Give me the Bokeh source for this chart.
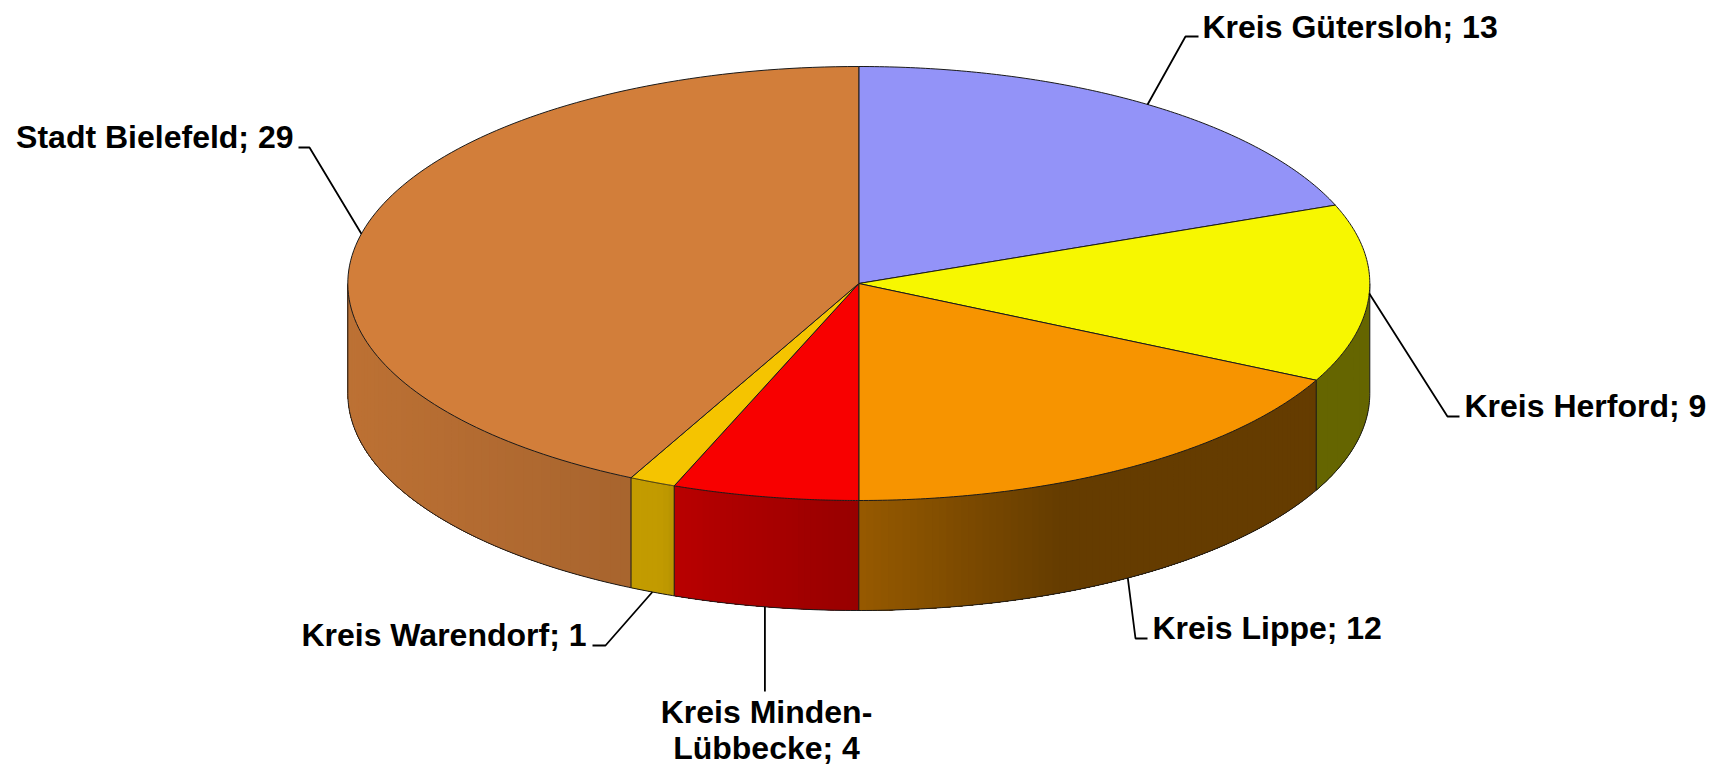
import numpy as np
from bokeh.core.properties import value
from bokeh.embed import file_html
from bokeh.models import Range1d
from bokeh.plotting import figure
from bokeh.resources import INLINE

# ---- data (clockwise from 12 o'clock) ----
names = ["Kreis Gütersloh", "Kreis Herford", "Kreis Lippe",
         "Kreis Minden-Lübbecke", "Kreis Warendorf", "Stadt Bielefeld"]
counts = [13, 9, 12, 4, 1, 29]
colors = ["#9393F8", "#F7F700", "#F79400", "#F80000", "#F5C400", "#D27E3A"]

# ---- layout (page pixels) ----
CX, CY, RX, RY, DEPTH = 858.3, 283.0, 511.0, 217.0, 110.0
# side shading, by horizontal position
SHADE_X = [347, 660, 680, 860, 1060, 1369]
SHADE_F = [0.90, 0.79, 0.74, 0.61, 0.41, 0.41]
# per-label: elbow, label-end of the leader, text x, baseline y, alignment
label_layout = [
    dict(elbow=(1185, 36), end=(1198, 36), tx=1202, ty=[37], align="left", side=False),
    dict(elbow=(1447, 416), end=(1459, 416), tx=1464, ty=[416], align="left", side=False),
    dict(elbow=(1135, 638), end=(1147, 638), tx=1152, ty=[638], align="left", side=True),
    dict(elbow=(764.4, 691), end=(764.4, 691), tx=766, ty=[722, 758], align="center", side=True),
    dict(elbow=(605, 645), end=(592, 645), tx=586, ty=[645], align="right", side=True),
    dict(elbow=(309, 147), end=(298, 147), tx=293, ty=[147], align="right", side=False),
]
label_lines = [
    ["Kreis Gütersloh; 13"], ["Kreis Herford; 9"], ["Kreis Lippe; 12"],
    ["Kreis Minden-", "Lübbecke; 4"], ["Kreis Warendorf; 1"], ["Stadt Bielefeld; 29"],
]

FONT = "Liberation Sans"
FONT_SIZE = "32px"
TEXT_DY = -11  # the browser sets these texts lower than the asked-for baseline


def ex(t):
    return CX + RX * np.sin(t)


def ey(t):
    return CY - RY * np.cos(t)


def shade(hex_col, x):
    f = float(np.interp(x, SHADE_X, SHADE_F))
    r, g, b = (int(hex_col[i:i + 2], 16) for i in (1, 3, 5))
    return "#%02x%02x%02x" % (int(r * f), int(g * f), int(b * f))


p = figure(width=1719, height=766, output_backend="svg", toolbar_location=None,
           x_range=Range1d(0, 1719), y_range=Range1d(766, 0),
           min_border=0, outline_line_color=None, background_fill_color="white",
           border_fill_color="white")
p.axis.visible = False
p.grid.visible = False

edges = np.cumsum([0] + counts) / sum(counts) * 2 * np.pi
OUT = "#1a1a1a"

# visible rim: each strip reaches to the end of its slice, the next one paints over it,
# so that no background shows through between strips
for i, col in enumerate(colors):
    a, b = max(edges[i], np.pi / 2), min(edges[i + 1], 3 * np.pi / 2)
    if a >= b:
        continue
    n = max(2, int(abs(ex(b) - ex(a)) / 6) + 1)
    ts = np.linspace(a, b, n + 1)
    xs, ys, fc = [], [], []
    for t0, t1 in zip(ts[:-1], ts[1:]):
        tt = np.linspace(t0, b, 40)
        xs.append(list(ex(tt)) + list(ex(tt[::-1])))
        ys.append(list(ey(tt)) + list(ey(tt[::-1]) + DEPTH))
        fc.append(shade(col, ex((t0 + t1) / 2)))
    p.patches(xs, ys, fill_color=fc, line_color=None)

# rim outlines: bottom edge and verticals
tt = np.linspace(np.pi / 2, 3 * np.pi / 2, 300)
p.line(ex(tt), ey(tt) + DEPTH, line_color=OUT, line_width=1)
for e in list(edges[1:-1]) + [np.pi / 2, 3 * np.pi / 2]:
    if np.pi / 2 <= e <= 3 * np.pi / 2:
        p.line([ex(e), ex(e)], [ey(e), ey(e) + DEPTH], line_color=OUT, line_width=1)

# top face
for i, col in enumerate(colors):
    tt = np.linspace(edges[i], edges[i + 1], 120)
    p.patch([CX] + list(ex(tt)), [CY] + list(ey(tt)),
            fill_color=col, line_color=OUT, line_width=1, line_join="round")

# leaders and labels
for i, lay in enumerate(label_layout):
    mid = (edges[i] + edges[i + 1]) / 2
    ax, ay = ex(mid), ey(mid) + (DEPTH if lay["side"] else 0)
    p.line([ax, lay["elbow"][0], lay["end"][0]], [ay, lay["elbow"][1], lay["end"][1]],
           line_color="black", line_width=1.8)
    for line, y in zip(label_lines[i], lay["ty"]):
        p.text([lay["tx"]], [y + TEXT_DY], text=[line], text_font=value(FONT),
               text_font_style="bold", text_font_size=FONT_SIZE, text_color="black",
               text_align=lay["align"], text_baseline="alphabetic")

open("out.html", "w").write(file_html(p, INLINE))
